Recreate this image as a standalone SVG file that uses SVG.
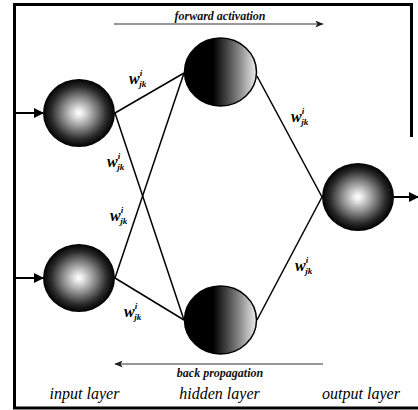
<svg xmlns="http://www.w3.org/2000/svg" width="418" height="410" viewBox="0 0 418 410">
<defs>
<radialGradient id="sphere" cx="0.5" cy="0.5" r="0.5">
<stop offset="0" stop-color="#ffffff"/>
<stop offset="0.1" stop-color="#ececec"/>
<stop offset="0.45" stop-color="#8a8a8a"/>
<stop offset="0.78" stop-color="#2a2a2a"/>
<stop offset="1" stop-color="#000"/>
</radialGradient>
<linearGradient id="hid" x1="0" y1="0" x2="1" y2="0">
<stop offset="0" stop-color="#000"/>
<stop offset="0.4" stop-color="#000"/>
<stop offset="0.72" stop-color="#777"/>
<stop offset="1" stop-color="#ececec"/>
</linearGradient>
<marker id="ah" viewBox="0 0 10 10" refX="9" refY="5" markerWidth="5" markerHeight="5" orient="auto">
<path d="M0,0 L10,5 L0,10 z" fill="#000"/>
</marker>
<marker id="ah2" viewBox="0 0 12 10" refX="11" refY="5" markerWidth="9" markerHeight="7" orient="auto" markerUnits="userSpaceOnUse">
<path d="M0,0 L12,5 L0,10 L3,5 z" fill="#222"/>
</marker>
<style>
.edge{stroke:#000;stroke-width:1.5;fill:none}
.io{stroke:#000;stroke-width:2;fill:none}
.flow{stroke:#333;stroke-width:1;fill:none}
.w{font-family:"Liberation Serif",serif;font-style:italic;font-weight:bold;font-size:16px;fill:#000}
.s{font-size:9px}
.cap{font-family:"Liberation Serif",serif;font-style:italic;font-weight:bold;font-size:12px;fill:#111;text-anchor:middle}
.lay{font-family:"Liberation Serif",serif;font-style:italic;font-size:16px;fill:#000;text-anchor:middle}
.frame{stroke:#000;stroke-width:3;fill:none}
</style>
</defs>
<rect width="418" height="410" fill="#fff"/>
<g id="frame">
<path class="frame" d="M411.5,137 L411.5,4.5 L14.5,4.5 L14.5,408 L418,408"/>
</g>
<g id="connectors">
<line class="edge" x1="115" y1="113" x2="184" y2="73"/>
<line class="edge" x1="115" y1="113" x2="184" y2="320"/>
<line class="edge" x1="115" y1="278" x2="184" y2="73"/>
<line class="edge" x1="115" y1="278" x2="184" y2="320"/>
<line class="edge" x1="257" y1="76" x2="322" y2="197"/>
<line class="edge" x1="257" y1="320" x2="322" y2="197"/>
<line class="io" x1="14" y1="113" x2="43" y2="113" marker-end="url(#ah)"/>
<line class="io" x1="14" y1="278" x2="43" y2="278" marker-end="url(#ah)"/>
<line class="io" x1="394" y1="197" x2="418" y2="197" marker-end="url(#ah)"/>
<line class="flow" x1="114" y1="24" x2="323" y2="24" marker-end="url(#ah2)"/>
<line class="flow" x1="323" y1="364" x2="115" y2="364" marker-end="url(#ah2)"/>
</g>
<g id="input1"><ellipse cx="79" cy="113" rx="36" ry="34" fill="url(#sphere)"/></g>
<g id="input2"><ellipse cx="79" cy="278" rx="36" ry="34" fill="url(#sphere)"/></g>
<g id="hidden1"><ellipse cx="220.5" cy="72" rx="36" ry="34" fill="url(#hid)" stroke="#000" stroke-width="1.5"/></g>
<g id="hidden2"><ellipse cx="220.5" cy="320" rx="36" ry="34" fill="url(#hid)" stroke="#000" stroke-width="1.5"/></g>
<g id="output"><ellipse cx="358" cy="197" rx="36" ry="34" fill="url(#sphere)"/></g>
<g id="weights">
<text class="w" x="129" y="84">w<tspan class="s" dy="-8">i</tspan><tspan class="s" dx="-3" dy="11">jk</tspan></text>
<text class="w" x="291" y="122">w<tspan class="s" dy="-8">i</tspan><tspan class="s" dx="-3" dy="11">jk</tspan></text>
<text class="w" x="107" y="167">w<tspan class="s" dy="-8">i</tspan><tspan class="s" dx="-3" dy="11">jk</tspan></text>
<text class="w" x="110" y="221">w<tspan class="s" dy="-8">i</tspan><tspan class="s" dx="-3" dy="11">jk</tspan></text>
<text class="w" x="295" y="271">w<tspan class="s" dy="-8">i</tspan><tspan class="s" dx="-3" dy="11">jk</tspan></text>
<text class="w" x="124" y="317">w<tspan class="s" dy="-8">i</tspan><tspan class="s" dx="-3" dy="11">jk</tspan></text>
</g>
<g id="labels">
<text class="cap" x="220" y="20">forward activation</text>
<text class="cap" x="220" y="377">back propagation</text>
<text class="lay" x="84.5" y="399">input layer</text>
<text class="lay" x="219.5" y="399">hidden layer</text>
<text class="lay" x="361" y="399">output layer</text>
</g>
</svg>
